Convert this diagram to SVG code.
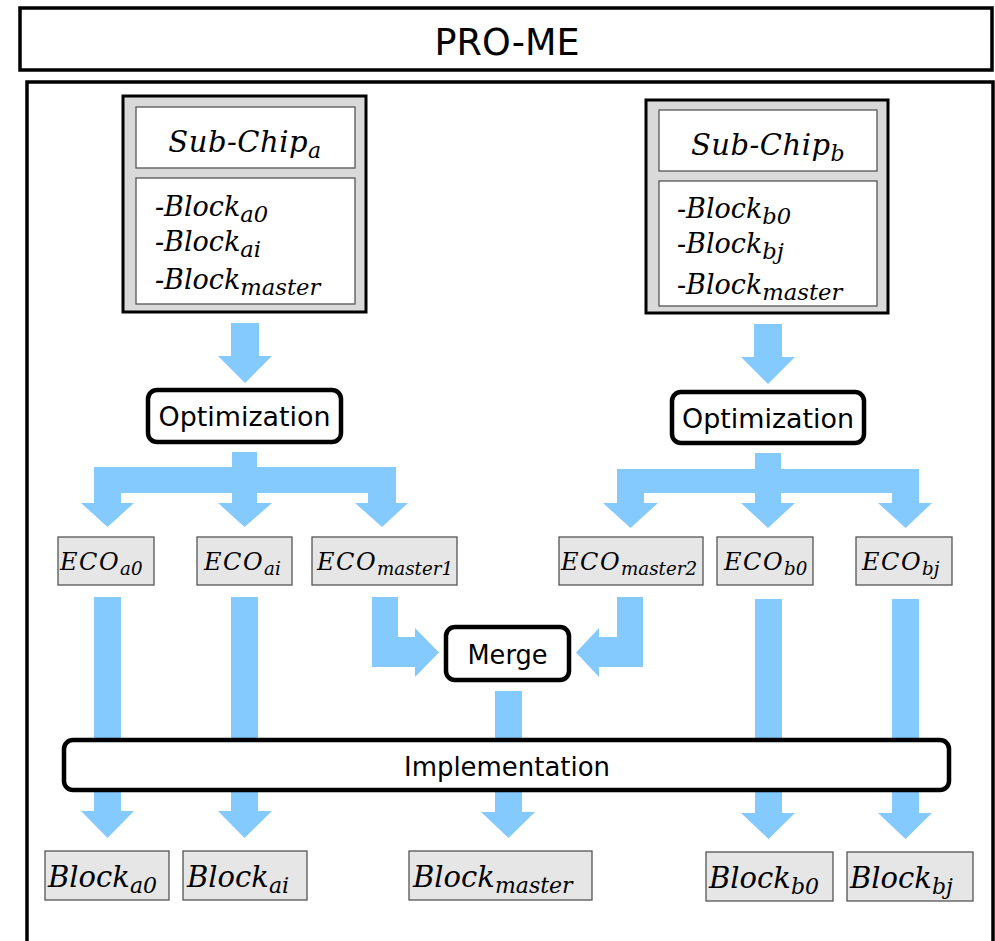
<svg xmlns="http://www.w3.org/2000/svg" width="995" height="941" viewBox="0 0 995 941">
<style>
.frame{fill:#fff;stroke:#000;stroke-width:3.5}
.proc{fill:#fff;stroke:#000;stroke-width:4.5}
.chip{fill:#d9d9d9;stroke:#000;stroke-width:3}
.inner{fill:#fff;stroke:#555;stroke-width:1.3}
.gbox{fill:#e6e6e6;stroke:#555;stroke-width:1.3}
.arrow{fill:#85caff;stroke:none}
.sans{font-family:"DejaVu Sans Condensed","DejaVu Sans",sans-serif;fill:#000}
.math{font-family:"DejaVu Serif",serif;font-style:italic;fill:#000}
.sub{font-size:0.76em}
.lsub{font-size:0.84em}
.eco{letter-spacing:1.5px}
</style>
<rect width="995" height="941" fill="#fff"/>
<g id="title">
<rect class="frame" x="20" y="8" width="972" height="62"/>
<text class="sans" x="507" y="55" font-size="37" text-anchor="middle" textLength="145" lengthAdjust="spacingAndGlyphs">PRO-ME</text>
</g>
<g id="container">
<rect class="frame" x="27" y="82" width="966" height="900"/>
</g>
<g id="connectors">
<path class="arrow" d="M231,323 H259 V356 H272 L245,383 L218,356 H231 Z"/>
<path class="arrow" d="M754,324 H782 V357 H795 L768,384 L741,357 H754 Z"/>
<path class="arrow" d="M232,452 H257 V467 H396 V503 H408 L382,527 L355,503 H368 V493 H257 V503 H272 L244.5,527 L218,503 H232 V493 H121 V503 H134 L107.5,527 L81,503 H94 V467 H232 Z"/>
<path class="arrow" d="M755,453 H781 V469 H919 V503 H932 L905.5,528 L878,503 H892 V493 H781 V503 H795 L768,528 L741,503 H755 V493 H644 V503 H658 L630.5,528 L603,503 H617 V469 H755 Z"/>
<path class="arrow" d="M94,597 H121 V811 H134 L107.5,838 L81,811 H94 Z"/>
<path class="arrow" d="M231,597 H258 V811 H272 L244.5,838 L218,811 H231 Z"/>
<path class="arrow" d="M495,691 H522 V812 H535 L508.5,838 L481,812 H495 Z"/>
<path class="arrow" d="M755,599 H782 V813 H795 L768.5,839 L741,813 H755 Z"/>
<path class="arrow" d="M892,599 H919 V813 H932 L905.5,839 L878,813 H892 Z"/>
<path class="arrow" d="M372,597 H398 V637 H415 V628 L439,652.5 L415,677 V667 H372 Z"/>
<path class="arrow" d="M617,597 H643 V667 H599 V677 L576,652.5 L599,628 V637 H617 Z"/>
</g>
<g id="subchip-a">
<rect class="chip" x="123" y="96" width="243" height="216"/>
<rect class="inner" x="136" y="107" width="219" height="61"/>
<rect class="inner" x="136" y="178" width="219" height="126"/>
<text class="math" x="245" y="152" font-size="29" text-anchor="middle" letter-spacing="0.5">Sub-Chip<tspan class="sub" dy="6">a</tspan></text>
<text class="math" x="155" y="216" font-size="27">-Block<tspan class="lsub" dy="6">a0</tspan></text>
<text class="math" x="155" y="251" font-size="27">-Block<tspan class="lsub" dy="6">ai</tspan></text>
<text class="math" x="155" y="289" font-size="27">-Block<tspan class="lsub" dy="6">master</tspan></text>
</g>
<g id="subchip-b">
<rect class="chip" x="646" y="100" width="242" height="213"/>
<rect class="inner" x="659" y="110" width="218" height="61"/>
<rect class="inner" x="659" y="181" width="218" height="125"/>
<text class="math" x="768" y="155" font-size="29" text-anchor="middle" letter-spacing="0.5">Sub-Chip<tspan class="sub" dy="6">b</tspan></text>
<text class="math" x="677" y="218" font-size="27">-Block<tspan class="lsub" dy="6">b0</tspan></text>
<text class="math" x="677" y="253" font-size="27">-Block<tspan class="lsub" dy="6">bj</tspan></text>
<text class="math" x="677" y="294" font-size="27">-Block<tspan class="lsub" dy="6">master</tspan></text>
</g>
<g id="opt-a">
<rect class="proc" x="148" y="390" width="193" height="52" rx="9"/>
<text class="sans" x="244.5" y="426" font-size="27" text-anchor="middle" textLength="172" lengthAdjust="spacingAndGlyphs">Optimization</text>
</g>
<g id="opt-b">
<rect class="proc" x="672" y="392" width="192" height="51" rx="9"/>
<text class="sans" x="768" y="428" font-size="27" text-anchor="middle" textLength="172" lengthAdjust="spacingAndGlyphs">Optimization</text>
</g>
<g id="eco-a0">
<rect class="gbox" x="58" y="537" width="96" height="48"/>
<text class="math" x="60" y="570" font-size="24"><tspan class="eco">ECO</tspan><tspan class="sub" dy="5">a0</tspan></text>
</g>
<g id="eco-ai">
<rect class="gbox" x="197" y="537" width="95" height="48"/>
<text class="math" x="204" y="570" font-size="24"><tspan class="eco">ECO</tspan><tspan class="sub" dy="5">ai</tspan></text>
</g>
<g id="eco-master1">
<rect class="gbox" x="312" y="537" width="145" height="48"/>
<text class="math" x="317" y="570" font-size="24"><tspan class="eco">ECO</tspan><tspan class="sub" dy="5">master1</tspan></text>
</g>
<g id="eco-master2">
<rect class="gbox" x="559" y="537" width="144" height="48"/>
<text class="math" x="561" y="570" font-size="24"><tspan class="eco">ECO</tspan><tspan class="sub" dy="5">master2</tspan></text>
</g>
<g id="eco-b0">
<rect class="gbox" x="717" y="537" width="96" height="48"/>
<text class="math" x="724" y="570" font-size="24"><tspan class="eco">ECO</tspan><tspan class="sub" dy="5">b0</tspan></text>
</g>
<g id="eco-bj">
<rect class="gbox" x="856" y="537" width="96" height="48"/>
<text class="math" x="862" y="570" font-size="24"><tspan class="eco">ECO</tspan><tspan class="sub" dy="5">bj</tspan></text>
</g>
<g id="merge">
<rect class="proc" x="446" y="627" width="123" height="53" rx="9"/>
<text class="sans" x="507.5" y="664" font-size="27" text-anchor="middle" textLength="80" lengthAdjust="spacingAndGlyphs">Merge</text>
</g>
<g id="implementation">
<rect class="proc" x="64" y="740" width="885" height="50" rx="9"/>
<text class="sans" x="507" y="776" font-size="27" text-anchor="middle" textLength="206" lengthAdjust="spacingAndGlyphs">Implementation</text>
</g>
<g id="block-a0">
<rect class="gbox" x="45" y="851" width="124" height="49"/>
<text class="math" x="48" y="887" font-size="29">Block<tspan class="sub" dy="6">a0</tspan></text>
</g>
<g id="block-ai">
<rect class="gbox" x="183" y="851" width="124" height="49"/>
<text class="math" x="187" y="887" font-size="29">Block<tspan class="sub" dy="6">ai</tspan></text>
</g>
<g id="block-master">
<rect class="gbox" x="409" y="851" width="183" height="49"/>
<text class="math" x="413" y="887" font-size="29">Block<tspan class="sub" dy="6">master</tspan></text>
</g>
<g id="block-b0">
<rect class="gbox" x="706" y="852" width="127" height="49"/>
<text class="math" x="709" y="888" font-size="29">Block<tspan class="sub" dy="6">b0</tspan></text>
</g>
<g id="block-bj">
<rect class="gbox" x="847" y="852" width="126" height="49"/>
<text class="math" x="850" y="888" font-size="29">Block<tspan class="sub" dy="6">bj</tspan></text>
</g>
</svg>
